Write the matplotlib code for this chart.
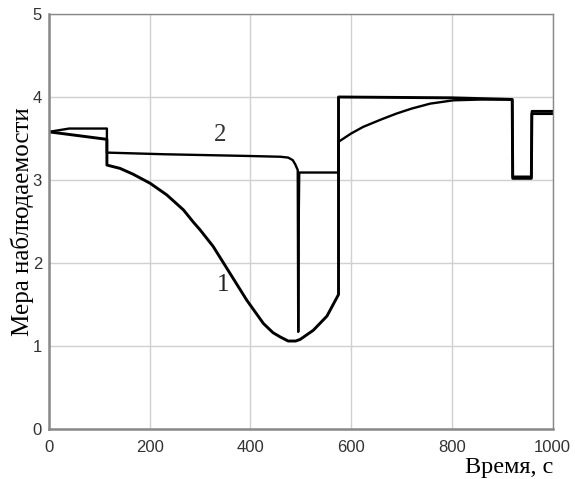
import numpy as np
import matplotlib
matplotlib.use('Agg')
import matplotlib.pyplot as plt

# curve 1 (lower)
t1 = [0, 115, 115, 141, 167, 201, 234, 267, 287, 300, 326, 359, 393, 426, 445, 459, 475,
      490, 499, 525, 552, 575, 575, 800, 920, 921, 958, 959, 1000]
y1 = [3.58, 3.49, 3.18, 3.14, 3.07, 2.96, 2.82, 2.64, 2.49, 2.40, 2.20, 1.88, 1.55, 1.27, 1.16, 1.11, 1.06,
      1.06, 1.08, 1.19, 1.36, 1.62, 4.0, 3.99, 3.97, 3.02, 3.02, 3.80, 3.80]

# curve 2 (upper)
t2 = [0, 40, 115, 115, 230, 392, 460, 475, 484, 489, 494, 495, 496, 497, 575, 575,
      600, 624, 660, 690, 720, 757, 803, 860, 920, 921, 958, 959, 1000]
y2 = [3.58, 3.62, 3.62, 3.33, 3.31, 3.29, 3.28, 3.27, 3.24, 3.19, 3.12, 1.17, 2.55, 3.09, 3.09, 3.46,
      3.56, 3.64, 3.73, 3.80, 3.86, 3.92, 3.96, 3.97, 3.97, 3.04, 3.04, 3.83, 3.83]

xticks = [0, 200, 400, 600, 800, 1000]
yticks = [0, 1, 2, 3, 4, 5]

fig = plt.figure(figsize=(5.75, 4.79), dpi=100)
ax = fig.add_axes([49/575, 1-429/479, (552.5-49)/575, (429-14)/479])

ax.plot(t1, y1, color='black', lw=2.1, solid_joinstyle='round')
ax.plot(t2, y2, color='black', lw=1.7, solid_joinstyle='round')

ax.set_xlim(0, 1000)
ax.set_ylim(0, 5)
ax.set_xticks(xticks)
ax.set_yticks(yticks)
ax.grid(True, color='#d0d0d0', lw=1.0)
ax.tick_params(length=0, labelsize=12, colors='#333333', pad=5)
ax.tick_params(axis='x', pad=8)
for lab in ax.get_xticklabels() + ax.get_yticklabels():
    lab.set_family('Liberation Sans')
for s in ax.spines.values():
    s.set_color('#888888')
    s.set_linewidth(1.0)
ax.spines['left'].set_linewidth(1.8)
ax.spines['bottom'].set_linewidth(1.8)

ax.text(340, 3.54, '2', family='Liberation Serif', fontsize=18, ha='center', va='center', color='#333333')
ax.text(346, 1.73, '1', family='Liberation Serif', fontsize=18, ha='center', va='center', color='#222222')

fig.text(22/575, 1-222/479, 'Мера наблюдаемости', family='Liberation Serif', fontsize=18,
         rotation=90, ha='center', va='center')
fig.text(553/575, 1-468/479, 'Время, с', family='Liberation Serif', fontsize=17.5,
         ha='right', va='center')

fig.savefig('out.png', dpi=100)
